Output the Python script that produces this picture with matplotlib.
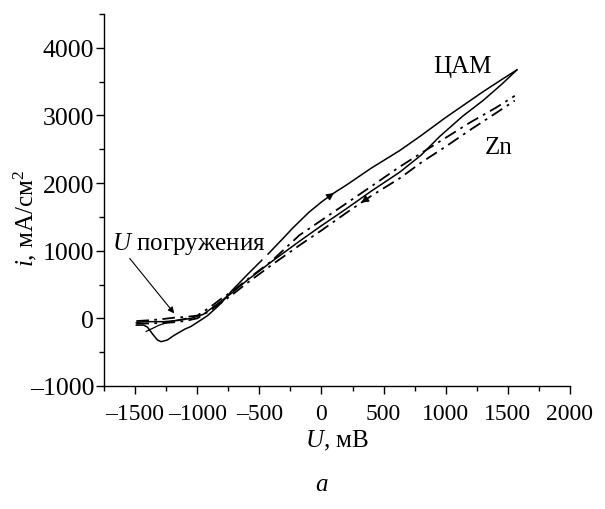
import numpy as np
import matplotlib.pyplot as plt
from matplotlib.ticker import MultipleLocator, FuncFormatter

plt.rcParams['font.family'] = ['Liberation Serif', 'DejaVu Serif']
plt.rcParams['mathtext.fontset'] = 'custom'
plt.rcParams['mathtext.rm'] = 'Liberation Serif'
plt.rcParams['mathtext.it'] = 'Liberation Serif:italic'
plt.rcParams['font.size'] = 18

# ЦАМ, forward (anodic) branch, mV / mA/cm2
cam_fwd_u = [-1490, -1430, -1400, -1360, -1320, -1290, -1240, -1185, -1100, -1050,
             -1000, -950, -917, -850, -800, -718, -600, -480, -430, -300, -234, -100,
             0, 89, 200, 400, 629, 800, 1000, 1150, 1300, 1450, 1573]
cam_fwd_i = [-100, -100, -130, -230, -320, -345, -320, -250, -160, -120,
             -60, 0, 40, 150, 240, 415, 640, 860, 950, 1200, 1330, 1570,
             1720, 1840, 1970, 2220, 2480, 2700, 2970, 3160, 3350, 3530, 3674]
cam_gap = (-480, -430)  # the trace is broken here in the original

# ЦАМ, return branch
cam_ret_u = [-1490, -1427, -1266, -1150, -1051, -950, -863, -718, -600, -400, -177,
             0, 200, 400, 629, 800, 952, 1137, 1300, 1450, 1573]
cam_ret_i = [-64, -49, -49, -30, 0, 60, 178, 380, 560, 840, 1140,
             1370, 1620, 1880, 2160, 2410, 2690, 2990, 3220, 3460, 3674]

# ЦАМ, initial piece near immersion potential
cam_start_u = [-1411, -1350, -1306, -1200, -1089]
cam_start_i = [-193, -140, -100, -40, 0]

# Zn, forward branch
zn_fwd_u = [-1490, -1400, -1300, -1185, -1100, -1000, -900, -800, -718, -600, -400,
            -177, 0, 200, 400, 629, 800, 1000, 1200, 1400, 1556]
zn_fwd_i = [-40, -30, -15, 10, 20, 40, 160, 300, 400, 570, 850,
            1230, 1450, 1700, 1950, 2240, 2440, 2670, 2900, 3110, 3290]

# Zn, return branch
zn_ret_u = [-1490, -1400, -1300, -1200, -1100, -1000, -900, -800, -718, -600, -400,
            -177, 0, 200, 400, 629, 800, 1000, 1200, 1400, 1556]
zn_ret_i = [-80, -75, -70, -60, -40, 0, 110, 240, 350, 520, 790,
            1080, 1300, 1560, 1810, 2070, 2300, 2540, 2790, 3030, 3220]

fig = plt.figure(figsize=(6.05, 5.1), dpi=100)
ax = fig.add_axes([0.1719, 0.2412, 0.7702, 0.7294])

dashdot = (0, (7, 3, 1.5, 3))
u = np.array(cam_fwd_u)
i = np.array(cam_fwd_i)
ax.plot(u[u <= cam_gap[0]], i[u <= cam_gap[0]], color='k', lw=1.1)
ax.plot(u[u >= cam_gap[1]], i[u >= cam_gap[1]], color='k', lw=1.1)
ax.plot(cam_ret_u, cam_ret_i, color='k', lw=1.1)
ax.plot(cam_start_u, cam_start_i, color='k', lw=0.9)
ax.plot(zn_fwd_u, zn_fwd_i, color='k', lw=1.3, linestyle=dashdot)
ax.plot(zn_ret_u, zn_ret_i, color='k', lw=1.3, linestyle=dashdot)


def head(u_arr, i_arr, u0, sign):
    # small filled arrowhead sitting on a curve, pointing along it
    i0 = np.interp(u0, u_arr, i_arr)
    u1 = u0 + sign * 40
    i1 = np.interp(u1, u_arr, i_arr)
    ax.annotate('', xy=(u1, i1), xytext=(u0, i0),
                arrowprops=dict(arrowstyle='-|>', color='k', lw=0.8,
                                mutation_scale=11, shrinkA=0, shrinkB=0))


head(cam_fwd_u, cam_fwd_i, 60, 1)
head(zn_ret_u, zn_ret_i, 360, -1)

ax.text(1137, 3733, 'ЦАМ', ha='center', va='center')
ax.text(1427, 2530, 'Zn', ha='center', va='center')
ax.annotate(r'$U$ погружения', xy=(-1185, 74), xytext=(-1685, 1120),
            ha='left', va='center',
            arrowprops=dict(arrowstyle='-|>', color='k', lw=0.8,
                            mutation_scale=9, shrinkA=0, shrinkB=0,
                            relpos=(0.1, 0.0)))

ax.set_xlim(-1750, 2000)
ax.set_ylim(-1000, 4500)
ax.set_xticks([-1500, -1000, -500, 0, 500, 1000, 1500, 2000])
ax.set_yticks([-1000, 0, 1000, 2000, 3000, 4000])
ax.xaxis.set_minor_locator(MultipleLocator(250))
ax.yaxis.set_minor_locator(MultipleLocator(500))
dash_fmt = FuncFormatter(lambda v, p: f'{v:.0f}'.replace('-', '\u2013'))
ax.xaxis.set_major_formatter(dash_fmt)
ax.yaxis.set_major_formatter(dash_fmt)

for s in ['top', 'right']:
    ax.spines[s].set_visible(False)
for s in ['left', 'bottom']:
    ax.spines[s].set_linewidth(1.0)
ax.tick_params(which='major', direction='out', length=6, width=1.0)
ax.tick_params(which='minor', direction='out', length=3.5, width=1.0)
ax.tick_params(axis='x', which='major', labelsize=17, pad=6)
ax.tick_params(axis='y', which='major', labelsize=18.5, pad=1)

ax.set_xlabel(r'$U$, мВ', fontsize=18, labelpad=3)
ax.set_ylabel(r'$i$, мА/см$^2$', fontsize=18)
ax.yaxis.set_label_coords(-0.139, 0.454)

fig.text(322 / 605, 1 - 485 / 510, r'$a$', ha='center', va='center', fontsize=18)

fig.savefig('out.png', dpi=100)
